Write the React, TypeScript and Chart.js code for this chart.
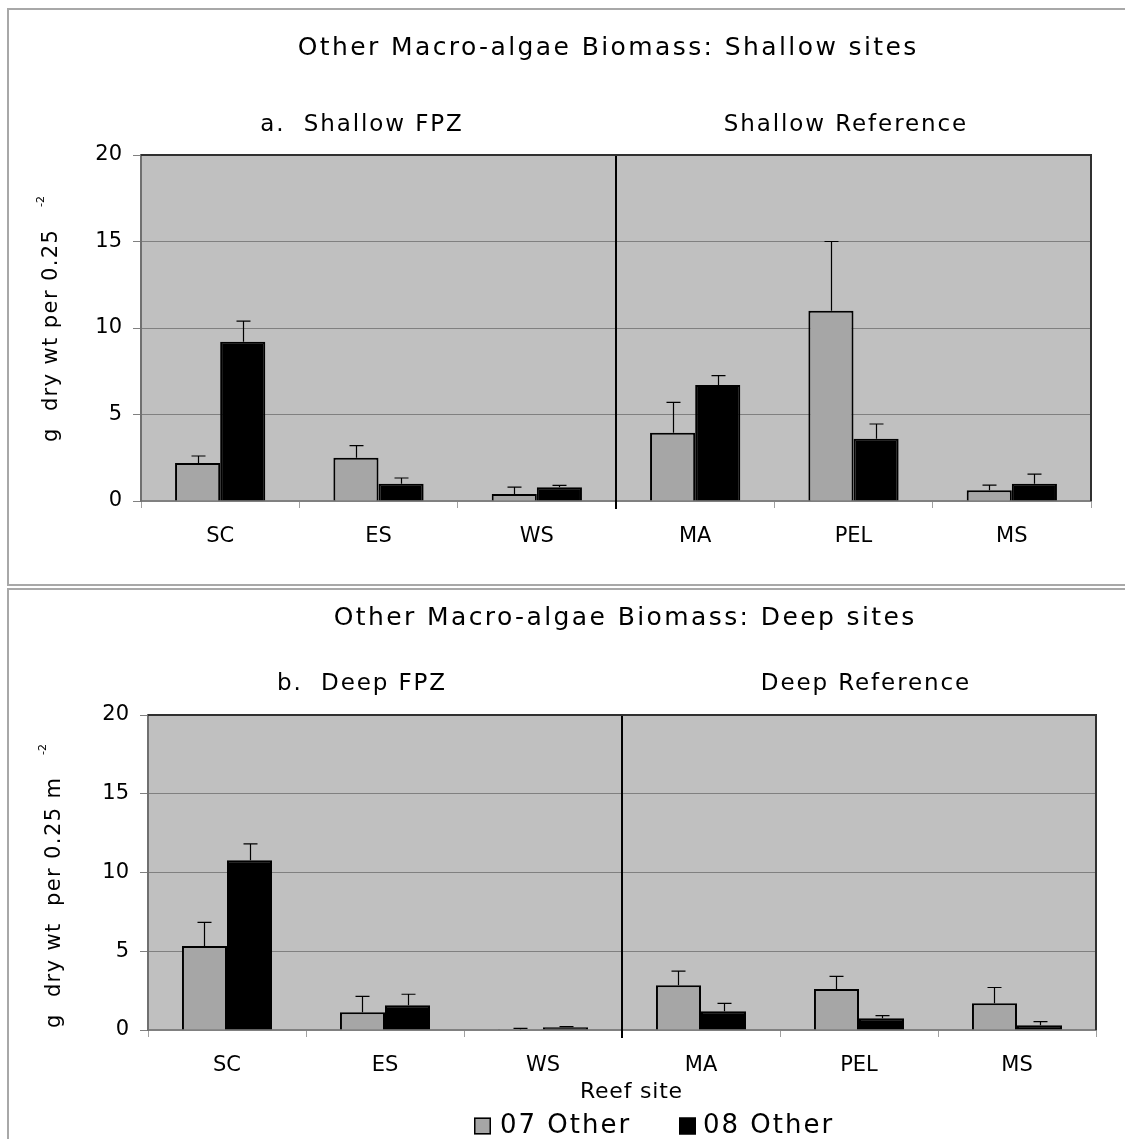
import React, { useEffect, useRef } from "react";
import { Chart, registerables } from "chart.js";

Chart.register(...registerables);

// ---- data -------------------------------------------------------------
const SITES = ["SC", "ES", "WS", "MA", "PEL", "MS"];
const SERIES_LABELS = ["07 Other", "08 Other"];
const Y_MAX = 20;
const Y_STEP = 5;
const FPZ_SITE_COUNT = 3; // SC, ES, WS are FPZ sites; the rest are reference sites

// Shallow sites: mean biomass and upper standard error
const SHALLOW_07 = [2.2, 2.5, 0.4, 3.95, 11.0, 0.62];
const SHALLOW_07_SE = [0.4, 0.7, 0.4, 1.75, 4.0, 0.3];
const SHALLOW_08 = [9.2, 1.0, 0.8, 6.7, 3.6, 1.0];
const SHALLOW_08_SE = [1.2, 0.33, 0.1, 0.55, 0.85, 0.55];

// Deep sites
const DEEP_07 = [5.33, 1.12, 0.05, 2.84, 2.6, 1.7];
const DEEP_07_SE = [1.5, 1.02, 0.05, 0.9, 0.8, 1.0];
const DEEP_08 = [10.77, 1.57, 0.17, 1.19, 0.74, 0.3];
const DEEP_08_SE = [1.05, 0.7, 0.05, 0.5, 0.17, 0.23];

// ---- styling ----------------------------------------------------------
const FONT = "'DejaVu Sans', Verdana, sans-serif";
const COLOR_07 = "#a6a6a6";
const COLOR_08 = "#000000";
const PLOT_BG = "#c0c0c0";

type Box = { left: number; right: number; top: number; bottom: number };

type PanelSpec = {
  top: number;
  height: number;
  plot: Box;
  title: string;
  titleX: number;
  titleY: number;
  groups: [string, string];
  groupX: [number, number];
  groupY: number;
  yLabel: string;
  yLabelStart: number;
  yLabelBase: number;
  ySup: string;
  ySupStart: number;
  ySupBase: number;
  s07: number[];
  s07se: number[];
  s08: number[];
  s08se: number[];
  xTitle?: { text: string; x: number; y: number };
  legend?: { y: number; items: { swatchX: number; textX: number }[] };
};

const CANVAS_W = 1125;

function spacedText(
  ctx: CanvasRenderingContext2D,
  text: string,
  x: number,
  y: number,
  size: number,
  spacing: number,
  align: CanvasTextAlign
) {
  ctx.save();
  ctx.font = `${size}px ${FONT}`;
  (ctx as any).letterSpacing = `${spacing}px`;
  ctx.textAlign = align;
  ctx.textBaseline = "middle";
  ctx.fillStyle = "#000";
  ctx.fillText(text, align === "center" ? x + spacing / 2 : x, y);
  ctx.restore();
}

function makeDecor(spec: PanelSpec, errors: number[][]) {
  return {
    id: "panelDecor",
    beforeDraw(chart: any) {
      const { ctx, chartArea: a } = chart;
      ctx.save();
      ctx.fillStyle = PLOT_BG;
      ctx.fillRect(a.left, a.top, a.right - a.left, a.bottom - a.top);
      ctx.restore();
    },
    afterDatasetsDraw(chart: any) {
      const { ctx, chartArea: a } = chart;
      const yScale = chart.scales.y;
      const xScale = chart.scales.x;

      // error bars (upper side only)
      ctx.save();
      ctx.strokeStyle = "#000";
      ctx.lineWidth = 1.2;
      chart.data.datasets.forEach((ds: any, i: number) => {
        const meta = chart.getDatasetMeta(i);
        meta.data.forEach((bar: any, j: number) => {
          const v = ds.data[j];
          const yTop = yScale.getPixelForValue(v + errors[i][j]);
          const x = Math.round(bar.x) + 0.5;
          ctx.beginPath();
          ctx.moveTo(x, bar.y);
          ctx.lineTo(x, yTop);
          ctx.moveTo(x - 7, yTop);
          ctx.lineTo(x + 7, yTop);
          ctx.stroke();
        });
      });
      ctx.restore();

      // divider between FPZ and reference sites
      const xd =
        (xScale.getPixelForValue(FPZ_SITE_COUNT - 1) +
          xScale.getPixelForValue(FPZ_SITE_COUNT)) /
        2;
      ctx.save();
      ctx.strokeStyle = "#000";
      ctx.lineWidth = 2;
      ctx.beginPath();
      ctx.moveTo(xd, a.top);
      ctx.lineTo(xd, a.bottom + 8);
      ctx.stroke();
      ctx.restore();
    },
    afterDraw(chart: any) {
      const { ctx, chartArea: a } = chart;
      // top and right frame of the plot area
      ctx.save();
      ctx.strokeStyle = "#303030";
      ctx.lineWidth = 2;
      ctx.beginPath();
      ctx.moveTo(a.left, a.top);
      ctx.lineTo(a.right, a.top);
      ctx.lineTo(a.right, a.bottom);
      ctx.stroke();
      ctx.restore();

      spacedText(ctx, spec.title, spec.titleX, spec.titleY, 25, 2.4, "center");
      spacedText(ctx, spec.groups[0], spec.groupX[0], spec.groupY, 23, 1.9, "center");
      spacedText(ctx, spec.groups[1], spec.groupX[1], spec.groupY, 23, 1.9, "center");

      // rotated y-axis label with superscript
      ctx.save();
      ctx.translate(spec.yLabelBase, spec.yLabelStart);
      ctx.rotate(-Math.PI / 2);
      ctx.font = `21px ${FONT}`;
      (ctx as any).letterSpacing = "1.4px";
      ctx.textAlign = "left";
      ctx.textBaseline = "alphabetic";
      ctx.fillStyle = "#000";
      ctx.fillText(spec.yLabel, 0, 0);
      ctx.restore();

      ctx.save();
      ctx.translate(spec.ySupBase, spec.ySupStart);
      ctx.rotate(-Math.PI / 2);
      ctx.font = `11px ${FONT}`;
      ctx.textAlign = "left";
      ctx.textBaseline = "alphabetic";
      ctx.fillStyle = "#000";
      ctx.fillText(spec.ySup, 0, 0);
      ctx.restore();

      if (spec.xTitle) {
        spacedText(ctx, spec.xTitle.text, spec.xTitle.x, spec.xTitle.y, 22, 0.8, "center");
      }

      if (spec.legend) {
        const lg = spec.legend;
        chart.data.datasets.forEach((ds: any, i: number) => {
          const it = lg.items[i];
          ctx.save();
          ctx.fillStyle = ds.backgroundColor;
          ctx.fillRect(it.swatchX, lg.y - 8.5, 17, 17);
          ctx.strokeStyle = "#000";
          ctx.lineWidth = 1.5;
          ctx.strokeRect(it.swatchX + 0.75, lg.y - 7.75, 15.5, 15.5);
          ctx.restore();
          spacedText(ctx, ds.label, it.textX, lg.y, 26, 2, "left");
        });
      }
    },
  };
}

function Panel({ spec }: { spec: PanelSpec }) {
  const ref = useRef<HTMLCanvasElement | null>(null);

  useEffect(() => {
    const canvas = ref.current;
    if (!canvas) return;
    const yAxisWidth = 70;
    const xAxisHeight = 50;
    const p = spec.plot;
    const chart = new Chart(canvas, {
      type: "bar",
      data: {
        labels: SITES,
        datasets: [
          {
            label: SERIES_LABELS[0],
            data: spec.s07,
            backgroundColor: COLOR_07,
            borderColor: "#000",
            borderWidth: 2,
            categoryPercentage: 0.57,
            barPercentage: 1,
          },
          {
            label: SERIES_LABELS[1],
            data: spec.s08,
            backgroundColor: COLOR_08,
            borderColor: "#000",
            borderWidth: 2,
            categoryPercentage: 0.57,
            barPercentage: 1,
          },
        ],
      },
      options: {
        animation: false,
        responsive: false,
        maintainAspectRatio: false,
        devicePixelRatio: 1,
        layout: {
          padding: {
            left: p.left - yAxisWidth,
            right: CANVAS_W - p.right,
            top: p.top,
            bottom: spec.height - p.bottom - xAxisHeight,
          },
        },
        plugins: {
          legend: { display: false },
          title: { display: false },
          tooltip: { enabled: false },
        },
        scales: {
          x: {
            grid: {
              drawOnChartArea: false,
              drawTicks: true,
              tickLength: 7,
              color: "#a0a0a0",
              offset: true,
            },
            border: { display: true, color: "#808080", width: 2 },
            ticks: {
              color: "#000",
              font: { family: FONT, size: 21 },
              padding: 16,
              maxRotation: 0,
            },
            afterFit: (s: any) => {
              s.height = xAxisHeight;
            },
          },
          y: {
            min: 0,
            max: Y_MAX,
            ticks: {
              stepSize: Y_STEP,
              color: "#000",
              font: { family: FONT, size: 21 },
              padding: 11,
            },
            grid: { color: "#808080", lineWidth: 1, tickLength: 8 },
            border: { display: true, color: "#707070", width: 2 },
            afterFit: (s: any) => {
              s.width = yAxisWidth;
            },
          },
        },
      },
      plugins: [makeDecor(spec, [spec.s07se, spec.s08se])],
    } as any);
    return () => chart.destroy();
  }, [spec]);

  return (
    <canvas
      ref={ref}
      width={CANVAS_W}
      height={spec.height}
      style={{
        position: "absolute",
        left: 0,
        top: spec.top,
        width: CANVAS_W,
        height: spec.height,
      }}
    />
  );
}

const SHALLOW_SPEC: PanelSpec = {
  top: 0,
  height: 585,
  plot: { left: 141, right: 1091, top: 155, bottom: 501 },
  title: "Other Macro-algae Biomass: Shallow sites",
  titleX: 607,
  titleY: 48,
  groups: ["a.  Shallow FPZ", "Shallow Reference"],
  groupX: [361, 845],
  groupY: 125,
  yLabel: "g  dry wt per 0.25",
  yLabelStart: 442,
  yLabelBase: 57,
  ySup: "-2",
  ySupStart: 207,
  ySupBase: 44,
  s07: SHALLOW_07,
  s07se: SHALLOW_07_SE,
  s08: SHALLOW_08,
  s08se: SHALLOW_08_SE,
};

const DEEP_SPEC: PanelSpec = {
  top: 586,
  height: 553,
  plot: { left: 148, right: 1096, top: 129, bottom: 444 },
  title: "Other Macro-algae Biomass: Deep sites",
  titleX: 624,
  titleY: 32,
  groups: ["b.  Deep FPZ", "Deep Reference"],
  groupX: [361, 865],
  groupY: 98,
  yLabel: "g  dry wt  per 0.25 m",
  yLabelStart: 442,
  yLabelBase: 60,
  ySup: "-2",
  ySupStart: 169,
  ySupBase: 46,
  s07: DEEP_07,
  s07se: DEEP_07_SE,
  s08: DEEP_08,
  s08se: DEEP_08_SE,
  xTitle: { text: "Reef site", x: 631, y: 506 },
  legend: {
    y: 540,
    items: [
      { swatchX: 474, textX: 500 },
      { swatchX: 679, textX: 703 },
    ],
  },
};

export default function App() {
  const frame = "2px solid #a8a8a8";
  return (
    <div
      style={{
        position: "absolute",
        left: 0,
        top: 0,
        width: 1125,
        height: 1139,
        overflow: "hidden",
        background: "#fff",
      }}
    >
      <div
        style={{
          position: "absolute",
          left: 7,
          top: 8,
          width: 1116,
          height: 574,
          borderLeft: frame,
          borderTop: frame,
          borderBottom: frame,
        }}
      />
      <div
        style={{
          position: "absolute",
          left: 7,
          top: 588,
          width: 1116,
          height: 560,
          borderLeft: frame,
          borderTop: frame,
        }}
      />
      <Panel spec={SHALLOW_SPEC} />
      <Panel spec={DEEP_SPEC} />
    </div>
  );
}
